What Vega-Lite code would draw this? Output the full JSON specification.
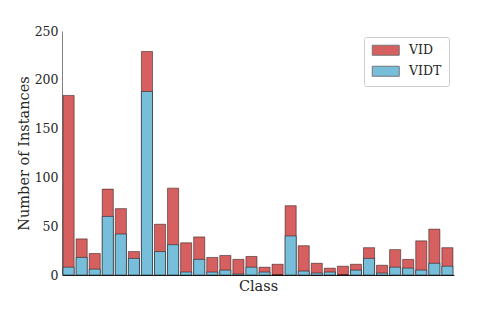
{
  "$schema": "https://vega.github.io/schema/vega-lite/v6.json",
  "width": 392,
  "height": 244,
  "autosize": "none",
  "padding": {"left": 62, "top": 31, "right": 50, "bottom": 40},
  "background": "white",
  "config": {
    "view": {"stroke": null},
    "font": "DejaVu Serif",
    "axis": {"labelFont": "DejaVu Serif", "titleFont": "DejaVu Serif", "labelFontSize": 12.5, "titleFontSize": 14.5, "titleFontWeight": "normal", "labelColor": "#262626", "titleColor": "#262626"},
    "legend": {"labelFont": "DejaVu Serif", "labelFontSize": 12.5, "labelColor": "#262626"}
  },
  "data": {
    "values": [
      {"cls": 1, "series": "VID", "value": 184},
      {"cls": 2, "series": "VID", "value": 37},
      {"cls": 3, "series": "VID", "value": 22},
      {"cls": 4, "series": "VID", "value": 88},
      {"cls": 5, "series": "VID", "value": 68},
      {"cls": 6, "series": "VID", "value": 24},
      {"cls": 7, "series": "VID", "value": 229},
      {"cls": 8, "series": "VID", "value": 52},
      {"cls": 9, "series": "VID", "value": 89},
      {"cls": 10, "series": "VID", "value": 33},
      {"cls": 11, "series": "VID", "value": 39},
      {"cls": 12, "series": "VID", "value": 18},
      {"cls": 13, "series": "VID", "value": 20},
      {"cls": 14, "series": "VID", "value": 16},
      {"cls": 15, "series": "VID", "value": 19},
      {"cls": 16, "series": "VID", "value": 8},
      {"cls": 17, "series": "VID", "value": 11},
      {"cls": 18, "series": "VID", "value": 71},
      {"cls": 19, "series": "VID", "value": 30},
      {"cls": 20, "series": "VID", "value": 12},
      {"cls": 21, "series": "VID", "value": 7},
      {"cls": 22, "series": "VID", "value": 9},
      {"cls": 23, "series": "VID", "value": 11},
      {"cls": 24, "series": "VID", "value": 28},
      {"cls": 25, "series": "VID", "value": 10},
      {"cls": 26, "series": "VID", "value": 26},
      {"cls": 27, "series": "VID", "value": 16},
      {"cls": 28, "series": "VID", "value": 35},
      {"cls": 29, "series": "VID", "value": 47},
      {"cls": 30, "series": "VID", "value": 28},
      {"cls": 1, "series": "VIDT", "value": 8},
      {"cls": 2, "series": "VIDT", "value": 18},
      {"cls": 3, "series": "VIDT", "value": 6},
      {"cls": 4, "series": "VIDT", "value": 60},
      {"cls": 5, "series": "VIDT", "value": 42},
      {"cls": 6, "series": "VIDT", "value": 17},
      {"cls": 7, "series": "VIDT", "value": 188},
      {"cls": 8, "series": "VIDT", "value": 24},
      {"cls": 9, "series": "VIDT", "value": 31},
      {"cls": 10, "series": "VIDT", "value": 3},
      {"cls": 11, "series": "VIDT", "value": 16},
      {"cls": 12, "series": "VIDT", "value": 3},
      {"cls": 13, "series": "VIDT", "value": 5},
      {"cls": 14, "series": "VIDT", "value": 1},
      {"cls": 15, "series": "VIDT", "value": 8},
      {"cls": 16, "series": "VIDT", "value": 3},
      {"cls": 17, "series": "VIDT", "value": 0},
      {"cls": 18, "series": "VIDT", "value": 40},
      {"cls": 19, "series": "VIDT", "value": 4},
      {"cls": 20, "series": "VIDT", "value": 2},
      {"cls": 21, "series": "VIDT", "value": 3},
      {"cls": 22, "series": "VIDT", "value": 0},
      {"cls": 23, "series": "VIDT", "value": 5},
      {"cls": 24, "series": "VIDT", "value": 17},
      {"cls": 25, "series": "VIDT", "value": 2},
      {"cls": 26, "series": "VIDT", "value": 8},
      {"cls": 27, "series": "VIDT", "value": 7},
      {"cls": 28, "series": "VIDT", "value": 5},
      {"cls": 29, "series": "VIDT", "value": 12},
      {"cls": 30, "series": "VIDT", "value": 9}
    ]
  },
  "mark": {"type": "bar", "stroke": "black", "strokeOpacity": 0.45, "strokeWidth": 1, "opacity": 1},
  "encoding": {
    "x": {
      "field": "cls", "type": "ordinal", "sort": null,
      "scale": {"paddingInner": 0.15, "paddingOuter": 0.08},
      "axis": {"title": "Class", "labels": false, "ticks": false, "domainColor": "#262626", "domainWidth": 1, "titlePadding": 4}
    },
    "y": {
      "field": "value", "type": "quantitative", "stack": null,
      "scale": {"domain": [0, 250], "nice": false},
      "axis": {"title": "Number of Instances", "values": [0, 50, 100, 150, 200, 250], "ticks": false, "grid": false, "domainColor": "#808080", "domainWidth": 1, "labelPadding": 4, "titlePadding": 3}
    },
    "color": {
      "field": "series", "type": "nominal",
      "scale": {"domain": ["VID", "VIDT"], "range": ["#D65F5F", "#77BEDB"]},
      "legend": {
        "title": null, "orient": "none", "legendX": 302, "legendY": 6,
        "symbolType": "M-2.7,-1H2.7V1H-2.7Z", "symbolSize": 100, "symbolStrokeColor": "#777", "symbolStrokeWidth": 1, "symbolOpacity": 1,
        "symbolOffset": 8.5, "labelOffset": 17, "rowPadding": 6,
        "padding": 7, "strokeColor": "#cccccc", "fillColor": "white", "cornerRadius": 2
      }
    }
  }
}
